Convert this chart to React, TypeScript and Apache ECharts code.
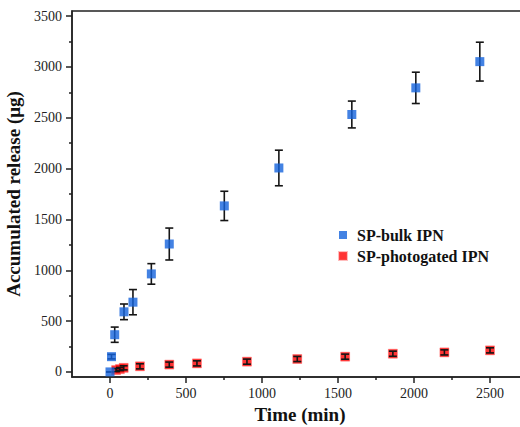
import React, { useEffect, useRef } from "react";
import * as echarts from "echarts";

const timeBulk = [0, 10, 31, 92, 151, 272, 390, 752, 1111, 1591, 2012, 2433];
const releaseBulk = [0, 150, 366, 591, 686, 964, 1258, 1633, 2006, 2532, 2794, 3052];
const errBulk = [0, 22, 75, 77, 124, 101, 157, 144, 175, 132, 154, 191];

const timePhoto = [40, 65, 90, 197, 390, 572, 901, 1232, 1547, 1861, 2200, 2500];
const releasePhoto = [18, 28, 40, 55, 72, 84, 101, 127, 150, 179, 192, 212];
const errPhoto = [15, 15, 20, 25, 25, 25, 25, 25, 25, 25, 25, 25];

const xLabels = [0, 500, 1000, 1500, 2000, 2500];
const xMinor = [250, 750, 1250, 1750, 2250];
const yLabels = [0, 500, 1000, 1500, 2000, 2500, 3000, 3500];
const yMinor = [250, 750, 1250, 1750, 2250, 2750, 3250];

const SERIF = "Liberation Serif";

function errRender(params: any, api: any) {
  const x = api.value(0);
  const y = api.value(1);
  const e = api.value(2);
  const top = api.coord([x, y + e]);
  const bot = api.coord([x, y - e]);
  const hw = 4;
  const style = { stroke: "#151515", lineWidth: 1.6 };
  return {
    type: "group",
    children: [
      { type: "line", shape: { x1: top[0], y1: top[1], x2: bot[0], y2: bot[1] }, style },
      { type: "line", shape: { x1: top[0] - hw, y1: top[1], x2: top[0] + hw, y2: top[1] }, style },
      { type: "line", shape: { x1: bot[0] - hw, y1: bot[1], x2: bot[0] + hw, y2: bot[1] }, style },
    ],
  };
}

export default function App() {
  const ref = useRef<HTMLDivElement>(null);
  useEffect(() => {
    if (!ref.current) return;
    const chart = echarts.init(ref.current, null, { renderer: "svg" });
    const xMin = -250, xMax = 2750, yMin = -50, yMax = 3550;
    const fmt = (v: number) => "{n|" + String(v) + "}";
    const rich = { n: { fontFamily: SERIF, fontSize: 14, color: "#222", fontWeight: "normal" } };
    const labelStyle = { fontFamily: SERIF, fontSize: 14, color: "#222", fontWeight: "normal", rich };
    chart.setOption({
      animation: false,
      backgroundColor: "#ffffff",
      textStyle: { fontFamily: SERIF },
      grid: {
        left: 72,
        right: -8,
        top: 11,
        bottom: 50,
        show: true,
        borderColor: "#222",
        borderWidth: 1.5,
        containLabel: false,
        outerBoundsMode: "none",
      },
      legend: {
        orient: "vertical",
        left: 333,
        top: 222,
        itemWidth: 8,
        itemHeight: 8,
        itemGap: 5,
        icon: "rect",
        textStyle: {
          fontFamily: SERIF,
          fontWeight: "bold",
          fontSize: 16,
          color: "#111",
          padding: [0, 0, 0, 5],
        },
        data: ["SP-bulk IPN", "SP-photogated IPN"],
      },
      xAxis: [
        {
          type: "value",
          min: xMin,
          max: xMax,
          name: "Time (min)",
          nameLocation: "middle",
          nameGap: 26,
          nameTextStyle: { fontFamily: SERIF, fontWeight: "bold", fontSize: 19, color: "#111" },
          axisLine: { show: true, onZero: false, lineStyle: { color: "#222", width: 1.5 } },
          axisTick: { show: true, length: 6, customValues: xLabels, lineStyle: { color: "#222", width: 1.5 } },
          axisLabel: { customValues: xLabels, formatter: fmt, margin: 9, ...labelStyle },
          splitLine: { show: false },
        },
        {
          type: "value",
          min: xMin,
          max: xMax,
          position: "bottom",
          axisLine: { show: false, onZero: false },
          axisTick: { show: true, length: 3, customValues: xMinor, lineStyle: { color: "#222", width: 1.5 } },
          axisLabel: { show: false },
          splitLine: { show: false },
        },
      ],
      yAxis: [
        {
          type: "value",
          min: yMin,
          max: yMax,
          name: "Accumulated release (μg)",
          nameLocation: "middle",
          nameGap: 41,
          nameTextStyle: { fontFamily: SERIF, fontWeight: "bold", fontSize: 19, color: "#111" },
          axisLine: { show: true, onZero: false, lineStyle: { color: "#222", width: 1.5 } },
          axisTick: { show: true, length: 6, customValues: yLabels, lineStyle: { color: "#222", width: 1.5 } },
          axisLabel: { customValues: yLabels, formatter: fmt, margin: 10, ...labelStyle },
          splitLine: { show: false },
        },
        {
          type: "value",
          min: yMin,
          max: yMax,
          position: "left",
          axisLine: { show: false, onZero: false },
          axisTick: { show: true, length: 3, customValues: yMinor, lineStyle: { color: "#222", width: 1.5 } },
          axisLabel: { show: false },
          splitLine: { show: false },
        },
      ],
      series: [
        {
          type: "custom",
          name: "bulkErr",
          renderItem: errRender,
          data: timeBulk.map((t, i) => [t, releaseBulk[i], errBulk[i]]),
          encode: { x: 0, y: 1 },
          z: 1,
          silent: true,
        },
        {
          type: "scatter",
          name: "SP-photogated IPN",
          symbol: "rect",
          symbolSize: 9,
          itemStyle: { color: "#ff0000", borderColor: "rgba(255,90,90,0.5)", borderWidth: 1 },
          data: timePhoto.map((t, i) => [t, releasePhoto[i]]),
          z: 2,
        },
        {
          type: "custom",
          name: "photoErr",
          renderItem: errRender,
          data: timePhoto.map((t, i) => [t, releasePhoto[i], errPhoto[i]]),
          encode: { x: 0, y: 1 },
          z: 3,
          silent: true,
        },
        {
          type: "scatter",
          name: "SP-bulk IPN",
          symbol: "rect",
          symbolSize: 9,
          itemStyle: { color: "#1463dc" },
          data: timeBulk.map((t, i) => [t, releaseBulk[i]]),
          z: 4,
        },
      ],
    });
    return () => chart.dispose();
  }, []);
  return <div ref={ref} style={{ width: 520, height: 427, position: "absolute", left: 0, top: 0 }} />;
}
